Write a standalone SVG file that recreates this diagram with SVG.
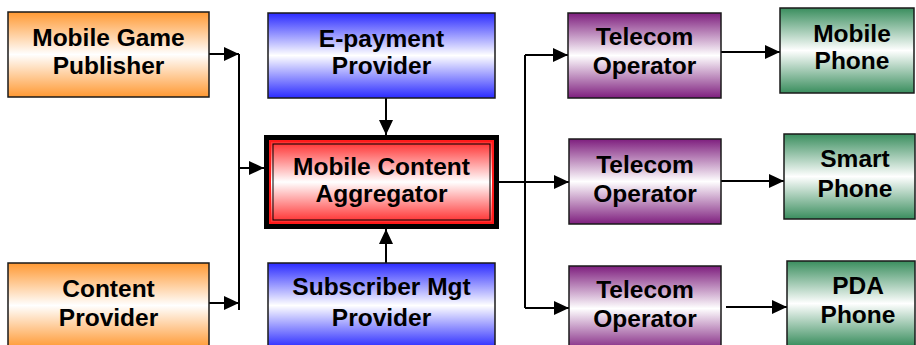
<svg xmlns="http://www.w3.org/2000/svg" width="916" height="345" viewBox="0 0 916 345">
  <defs>
    <linearGradient id="gOrange" x1="0" y1="0" x2="0" y2="1">
      <stop offset="0" stop-color="#FF9933"/>
      <stop offset="0.5" stop-color="#FFFFFF"/>
      <stop offset="1" stop-color="#FF9933"/>
    </linearGradient>
    <linearGradient id="gBlue" x1="0" y1="0" x2="0" y2="1">
      <stop offset="0" stop-color="#2A2AFF"/>
      <stop offset="0.5" stop-color="#FFFFFF"/>
      <stop offset="1" stop-color="#2A2AFF"/>
    </linearGradient>
    <linearGradient id="gPurple" x1="0" y1="0" x2="0" y2="1">
      <stop offset="0" stop-color="#7E1E7E"/>
      <stop offset="0.5" stop-color="#FFFFFF"/>
      <stop offset="1" stop-color="#7E1E7E"/>
    </linearGradient>
    <linearGradient id="gGreen" x1="0" y1="0" x2="0" y2="1">
      <stop offset="0" stop-color="#3A8E5E"/>
      <stop offset="0.5" stop-color="#FFFFFF"/>
      <stop offset="1" stop-color="#3A8E5E"/>
    </linearGradient>
    <linearGradient id="gRed" x1="0" y1="0" x2="0" y2="1">
      <stop offset="0" stop-color="#FF2A2A"/>
      <stop offset="0.5" stop-color="#FFFFFF"/>
      <stop offset="1" stop-color="#FF2A2A"/>
    </linearGradient>
    <marker id="arrow" viewBox="0 0 15 14" refX="15" refY="7" markerWidth="15" markerHeight="14" markerUnits="userSpaceOnUse" orient="auto">
      <path d="M0,0 L15,7 L0,14 Z" fill="#000"/>
    </marker>
  </defs>
  <style>
    .box { stroke: #1a1a1a; stroke-width: 1.5; }
    .label { font-family: "Liberation Sans", Arial, sans-serif; font-weight: bold; font-size: 24.5px; fill: #000; text-anchor: middle; }
    .wire { stroke: #000; stroke-width: 2; fill: none; }
    .arrow { marker-end: url(#arrow); }
  </style>

  <rect width="916" height="345" fill="#FFFFFF"/>

  <g id="connectors">
    <line class="wire arrow" x1="209" y1="54" x2="239" y2="54"/>
    <line class="wire arrow" x1="209" y1="303" x2="239" y2="303"/>
    <line class="wire" x1="239" y1="54" x2="239" y2="310"/>
    <line class="wire arrow" x1="239" y1="168" x2="264" y2="168"/>
    <line class="wire arrow" x1="386" y1="98" x2="386" y2="135"/>
    <line class="wire arrow" x1="386" y1="263" x2="386" y2="229"/>
    <line class="wire arrow" x1="499" y1="182" x2="569" y2="182"/>
    <line class="wire" x1="525" y1="55" x2="525" y2="308"/>
    <line class="wire arrow" x1="525" y1="55" x2="568" y2="55"/>
    <line class="wire arrow" x1="525" y1="308" x2="569" y2="308"/>
    <line class="wire arrow" x1="721" y1="52" x2="780" y2="52"/>
    <line class="wire arrow" x1="721" y1="181" x2="784" y2="181"/>
    <line class="wire arrow" x1="726" y1="307" x2="787" y2="307"/>
  </g>

  <g id="mobile-game-publisher">
    <rect class="box" x="8" y="12" width="201" height="85" fill="url(#gOrange)"/>
    <text class="label" x="108.5" y="46">Mobile Game</text>
    <text class="label" x="108.5" y="74">Publisher</text>
  </g>

  <g id="content-provider">
    <rect class="box" x="8" y="263" width="201" height="85" fill="url(#gOrange)"/>
    <text class="label" x="108.5" y="297">Content</text>
    <text class="label" x="108.5" y="326">Provider</text>
  </g>

  <g id="e-payment-provider">
    <rect class="box" x="268" y="13" width="227" height="85" fill="url(#gBlue)"/>
    <text class="label" x="381.5" y="47">E-payment</text>
    <text class="label" x="381.5" y="74">Provider</text>
  </g>

  <g id="subscriber-mgt-provider">
    <rect class="box" x="268" y="263" width="227" height="85" fill="url(#gBlue)"/>
    <text class="label" x="381.5" y="295">Subscriber Mgt</text>
    <text class="label" x="381.5" y="326">Provider</text>
  </g>

  <g id="mobile-content-aggregator">
    <rect x="264" y="135" width="235" height="94" fill="#000"/>
    <rect x="270" y="141" width="223" height="82" fill="url(#gRed)" stroke="#FF1A1A" stroke-width="2"/>
    <rect x="273" y="144" width="217" height="76" fill="none" stroke="#000" stroke-width="1"/>
    <text class="label" x="381.5" y="175">Mobile Content</text>
    <text class="label" x="381.5" y="202">Aggregator</text>
  </g>

  <g id="telecom-operator-1">
    <rect class="box" x="568" y="13" width="153" height="85" fill="url(#gPurple)"/>
    <text class="label" x="644.5" y="45">Telecom</text>
    <text class="label" x="644.5" y="74">Operator</text>
  </g>

  <g id="telecom-operator-2">
    <rect class="box" x="569" y="139" width="152" height="85" fill="url(#gPurple)"/>
    <text class="label" x="645" y="173">Telecom</text>
    <text class="label" x="645" y="202">Operator</text>
  </g>

  <g id="telecom-operator-3">
    <rect class="box" x="569" y="266" width="152" height="85" fill="url(#gPurple)"/>
    <text class="label" x="645" y="298">Telecom</text>
    <text class="label" x="645" y="327">Operator</text>
  </g>

  <g id="mobile-phone">
    <rect class="box" x="780" y="8" width="134" height="85" fill="url(#gGreen)"/>
    <text class="label" x="852" y="42">Mobile</text>
    <text class="label" x="852" y="69">Phone</text>
  </g>

  <g id="smart-phone">
    <rect class="box" x="784" y="134" width="131" height="85" fill="url(#gGreen)"/>
    <text class="label" x="855" y="167">Smart</text>
    <text class="label" x="855" y="197">Phone</text>
  </g>

  <g id="pda-phone">
    <rect class="box" x="787" y="261" width="128" height="85" fill="url(#gGreen)"/>
    <text class="label" x="858" y="294">PDA</text>
    <text class="label" x="858" y="323">Phone</text>
  </g>
</svg>
